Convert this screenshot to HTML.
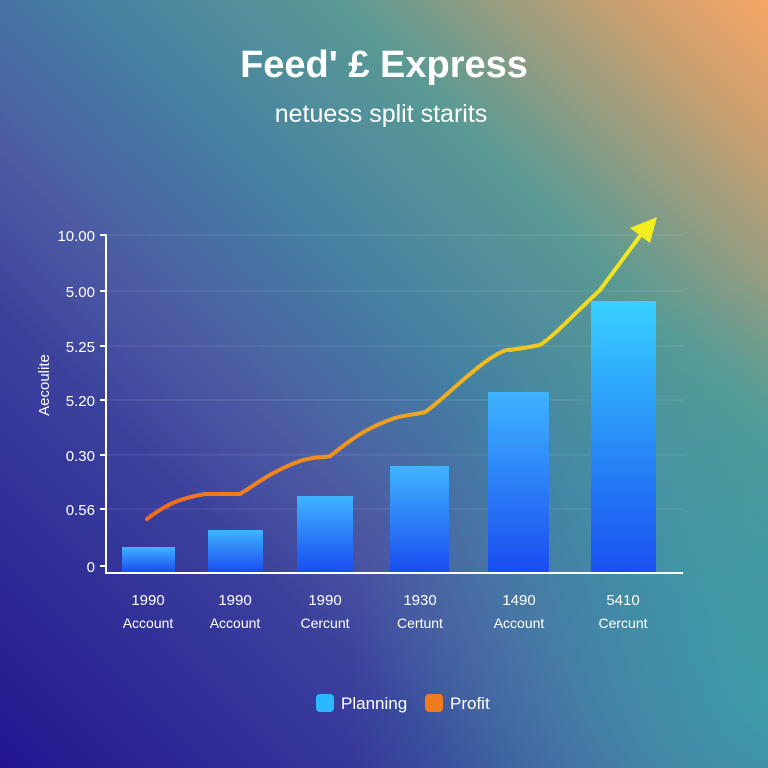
<!DOCTYPE html>
<html><head><meta charset="utf-8"><style>
html,body{margin:0;padding:0;}
body{width:768px;height:768px;overflow:hidden;font-family:"Liberation Sans",sans-serif;
background:radial-gradient(ellipse 420px 420px at 768px 700px,rgba(50,165,165,0.75),rgba(50,165,165,0) 100%),
linear-gradient(45deg,#221590 0%,#3a3f9c 28%,#44529e 40%,#3a7a9c 55%,#5a9a94 72%,#c8a070 90%,#f6a666 100%);}
</style></head><body>
<svg width="768" height="768" xmlns="http://www.w3.org/2000/svg" style="position:absolute;left:0;top:0">
<defs>
<linearGradient id="bar" x1="0" y1="0" x2="0" y2="1"><stop offset="0" stop-color="#3fb4ff"/><stop offset="1" stop-color="#1a4cf0"/></linearGradient>
<linearGradient id="bar6" x1="0" y1="0" x2="0" y2="1"><stop offset="0" stop-color="#38d0ff"/><stop offset="1" stop-color="#1a50f0"/></linearGradient>
<linearGradient id="ln" x1="147" y1="0" x2="655" y2="0" gradientUnits="userSpaceOnUse"><stop offset="0" stop-color="#f06a20"/><stop offset="0.5" stop-color="#f0a020"/><stop offset="1" stop-color="#f0f020"/></linearGradient>
<linearGradient id="band" x1="0" y1="768" x2="768" y2="0" gradientUnits="userSpaceOnUse"><stop offset="0.3" stop-color="#fff" stop-opacity="0"/><stop offset="0.5" stop-color="#8aa0d0" stop-opacity="0.12"/><stop offset="0.7" stop-color="#fff" stop-opacity="0"/></linearGradient>
</defs>
<rect width="768" height="768" fill="url(#band)"/>
<text x="384" y="77" text-anchor="middle" fill="#fff" font-size="38" font-weight="bold">Feed' £ Express</text>
<text x="381" y="122" text-anchor="middle" fill="#fff" font-size="25">netuess split starits</text>
<g stroke="#ffffff" stroke-opacity="0.12" stroke-width="1">
<line x1="106" y1="235" x2="683" y2="235"/><line x1="106" y1="291" x2="683" y2="291"/><line x1="106" y1="346" x2="683" y2="346"/><line x1="106" y1="400" x2="683" y2="400"/><line x1="106" y1="455" x2="683" y2="455"/><line x1="106" y1="509" x2="683" y2="509"/>
</g>
<g fill="url(#bar)">
<rect x="122" y="547" width="53" height="25"/>
<rect x="208" y="530" width="55" height="42"/>
<rect x="297" y="496" width="56" height="76"/>
<rect x="390" y="466" width="59" height="106"/>
<rect x="488" y="392" width="61" height="180"/>
</g>
<rect x="591" y="301" width="65" height="271" fill="url(#bar6)"/>
<g stroke="#fff" stroke-width="2" fill="none">
<line x1="106" y1="234" x2="106" y2="573"/><line x1="105" y1="573" x2="683" y2="573"/>
<line x1="100" y1="235" x2="106" y2="235"/><line x1="100" y1="291" x2="106" y2="291"/><line x1="100" y1="346" x2="106" y2="346"/><line x1="100" y1="400" x2="106" y2="400"/><line x1="100" y1="455" x2="106" y2="455"/><line x1="100" y1="509" x2="106" y2="509"/><line x1="100" y1="566" x2="106" y2="566"/>
</g>
<g fill="#fff" font-size="15" text-anchor="end">
<text x="95" y="241">10.00</text><text x="95" y="297">5.00</text><text x="95" y="352">5.25</text><text x="95" y="406">5.20</text><text x="95" y="461">0.30</text><text x="95" y="515">0.56</text><text x="95" y="572">0</text>
</g>
<text transform="translate(49,385) rotate(-90)" text-anchor="middle" fill="#fff" font-size="15">Aecoulite</text>
<path d="M147,519 C165,505 180,498 205,494 L240,494 C255,485 270,472 300,461 C315,456 325,458 330,456 C345,445 360,430 395,418 C410,414 420,414 425,412 C440,402 455,385 485,362 C495,355 505,349 510,350 C525,348 535,346 540,345 C555,335 570,318 600,290 L640,236" stroke="url(#ln)" stroke-width="4" fill="none" stroke-linecap="round"/>
<polygon points="657,217 650,243 630,228" fill="#f4ee20"/>
<g fill="#fff" font-size="15" text-anchor="middle">
<text x="148" y="605">1990</text><text x="148" y="628" font-size="14">Account</text>
<text x="235" y="605">1990</text><text x="235" y="628" font-size="14">Account</text>
<text x="325" y="605">1990</text><text x="325" y="628" font-size="14">Cercunt</text>
<text x="420" y="605">1930</text><text x="420" y="628" font-size="14">Certunt</text>
<text x="519" y="605">1490</text><text x="519" y="628" font-size="14">Account</text>
<text x="623" y="605">5410</text><text x="623" y="628" font-size="14">Cercunt</text>
</g>
<rect x="316" y="694" width="18" height="18" rx="4" fill="#2ab8ff"/>
<text x="341" y="709" fill="#fff" font-size="17">Planning</text>
<rect x="425" y="694" width="18" height="18" rx="4" fill="#f07a20"/>
<text x="450" y="709" fill="#fff" font-size="17">Profit</text>
</svg>
</body></html>
